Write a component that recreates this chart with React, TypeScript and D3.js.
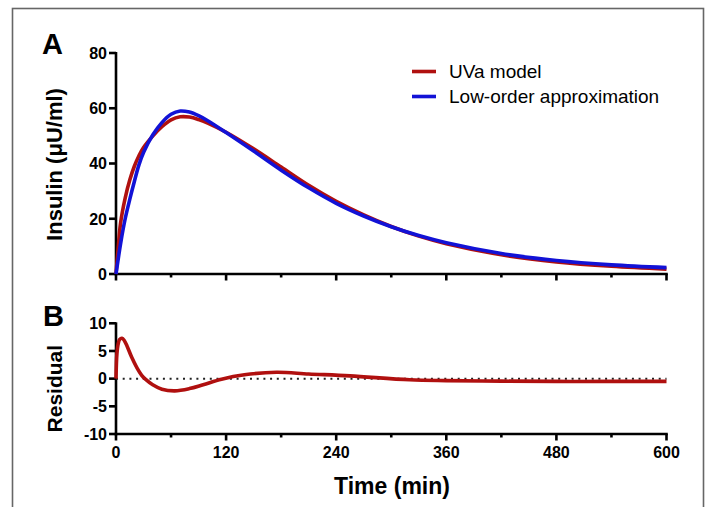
import React from "react";
import * as d3 from "d3";

const timeA = [0, 2, 5, 10, 15, 20, 25, 30, 40, 50, 60, 70, 80, 90, 100, 120, 150, 180, 210, 240, 270, 300, 330, 360, 420, 480, 540, 600];
const uvaModel = [0, 8, 18.5, 27.5, 34, 39, 42.8, 45.8, 49.9, 53.3, 55.8, 56.9, 56.8, 55.9, 54.6, 51.3, 45.3, 38.7, 32.1, 26.3, 21.4, 17.2, 13.7, 10.95, 6.95, 4.4, 2.8, 1.75];
const lowOrder = [0, 4.5, 11, 20, 27, 33.5, 39.5, 44, 50.3, 54.8, 57.8, 59, 58.6, 57.3, 55.5, 51.2, 44.5, 37.6, 31.2, 25.6, 21, 17.1, 13.9, 11.3, 7.4, 4.9, 3.3, 2.3];

const timeB = [0, 1, 2.5, 4, 6.5, 9, 12, 17, 23, 28, 32, 40, 50, 64, 80, 95, 115, 140, 175, 210, 255, 320, 360, 420, 480, 540, 600];
const residual = [0, 4.5, 6.4, 7.1, 7.3, 6.9, 5.9, 3.9, 1.9, 0.6, -0.1, -1.1, -1.9, -2.2, -1.8, -1.1, -0.1, 0.7, 1.15, 0.85, 0.5, -0.2, -0.35, -0.45, -0.5, -0.5, -0.5];

const xTicks = [0, 60, 120, 180, 240, 300, 360, 420, 480, 540, 600];
const xLabels = [0, 120, 240, 360, 480, 600];
const yTicksA = [0, 20, 40, 60, 80];
const yTicksB = [-10, -5, 0, 5, 10];
const legendLabels = ["UVa model", "Low-order approximation"];

const RED = "#b0100f";
const BLUE = "#1212d6";
const FONT = "'Liberation Sans', Arial, Helvetica, sans-serif";

export default function App() {
  const x = d3.scaleLinear().domain([0, 600]).range([116, 666.5]);
  const yA = d3.scaleLinear().domain([0, 80]).range([274, 53]);
  const yB = d3.scaleLinear().domain([-10, 10]).range([434, 323.3]);

  const lineA = (vals: number[]) =>
    d3.line<number>().x((_, i) => x(timeA[i])).y((d) => yA(d)).curve(d3.curveCatmullRom.alpha(0.5))(vals) || "";
  const lineB =
    d3.line<number>().x((_, i) => x(timeB[i])).y((d) => yB(d)).curve(d3.curveCatmullRom.alpha(0.5))(residual) || "";

  const axisW = 2.6;
  const isMajor = (t: number) => t % 120 === 0;

  return (
    <svg width={709} height={507} style={{ position: "absolute", left: 0, top: 0 }} fontFamily={FONT}>
      <rect x={0} y={0} width={709} height={507} fill="#fff" />
      <rect x={12.5} y={8.5} width={691} height={540} fill="none" stroke="#666" strokeWidth={1.6} />

      <text x={42} y={53.5} fontSize={29} fontWeight="bold">A</text>
      <text x={43} y={326} fontSize={29} fontWeight="bold">B</text>

      {/* Panel A */}
      <g>
        <line x1={x(0)} x2={x(0)} y1={yA(80) - 1} y2={yA(0) + axisW / 2} stroke="#000" strokeWidth={axisW} />
        {yTicksA.map((t) => (
          <g key={t}>
            <line x1={x(0) - 7} x2={x(0)} y1={yA(t)} y2={yA(t)} stroke="#000" strokeWidth={axisW} />
            <text x={x(0) - 9} y={yA(t)} dy="0.36em" textAnchor="end" fontSize={16} fontWeight="bold">{t}</text>
          </g>
        ))}
        <line x1={x(0) - axisW / 2} x2={x(600) + axisW / 2} y1={yA(0)} y2={yA(0)} stroke="#000" strokeWidth={axisW} />
        {xTicks.map((t) => (
          <line key={t} x1={x(t)} x2={x(t)} y1={yA(0)} y2={yA(0) + (isMajor(t) ? 6.5 : 3.5)} stroke="#000" strokeWidth={axisW} />
        ))}
        <text transform={`translate(62,${(yA(0) + yA(80)) / 2 + 1}) rotate(-90)`} textAnchor="middle" fontSize={22} fontWeight="bold">
          Insulin (μU/ml)
        </text>
        <path d={lineA(uvaModel)} fill="none" stroke={RED} strokeWidth={3.6} strokeLinejoin="round" />
        <path d={lineA(lowOrder)} fill="none" stroke={BLUE} strokeWidth={3.6} strokeLinejoin="round" />

        {legendLabels.map((lab, i) => (
          <g key={lab}>
            <line x1={412} x2={436} y1={71.5 + i * 25} y2={71.5 + i * 25} stroke={i === 0 ? RED : BLUE} strokeWidth={3.6} />
            <text x={449} y={71.5 + i * 25} dy="0.36em" fontSize={19}>{lab}</text>
          </g>
        ))}
      </g>

      {/* Panel B */}
      <g>
        <line x1={x(0)} x2={x(0)} y1={yB(10) - 1} y2={yB(-10) + axisW / 2} stroke="#000" strokeWidth={axisW} />
        {yTicksB.map((t) => (
          <g key={t}>
            <line x1={x(0) - 7} x2={x(0)} y1={yB(t)} y2={yB(t)} stroke="#000" strokeWidth={axisW} />
            <text x={x(0) - 9} y={yB(t)} dy="0.36em" textAnchor="end" fontSize={16} fontWeight="bold">{t}</text>
          </g>
        ))}
        <line x1={x(0) - axisW / 2} x2={x(600) + axisW / 2} y1={yB(-10)} y2={yB(-10)} stroke="#000" strokeWidth={axisW} />
        {xTicks.map((t) => (
          <line key={t} x1={x(t)} x2={x(t)} y1={yB(-10)} y2={yB(-10) + (isMajor(t) ? 6.5 : 3.5)} stroke="#000" strokeWidth={axisW} />
        ))}
        {xLabels.map((t) => (
          <text key={t} x={x(t)} y={458} textAnchor="middle" fontSize={16} fontWeight="bold">{t}</text>
        ))}
        <line x1={x(0)} x2={x(600)} y1={yB(0)} y2={yB(0)} stroke="#222" strokeWidth={2} strokeDasharray="2 4.7" />
        <path d={lineB} fill="none" stroke={RED} strokeWidth={3.6} strokeLinejoin="round" />
        <text transform={`translate(62,${(yB(-10) + yB(10)) / 2 + 10}) rotate(-90)`} textAnchor="middle" fontSize={21} fontWeight="bold">
          Residual
        </text>
        <text x={392} y={494} textAnchor="middle" fontSize={23} fontWeight="bold">Time (min)</text>
      </g>
    </svg>
  );
}
